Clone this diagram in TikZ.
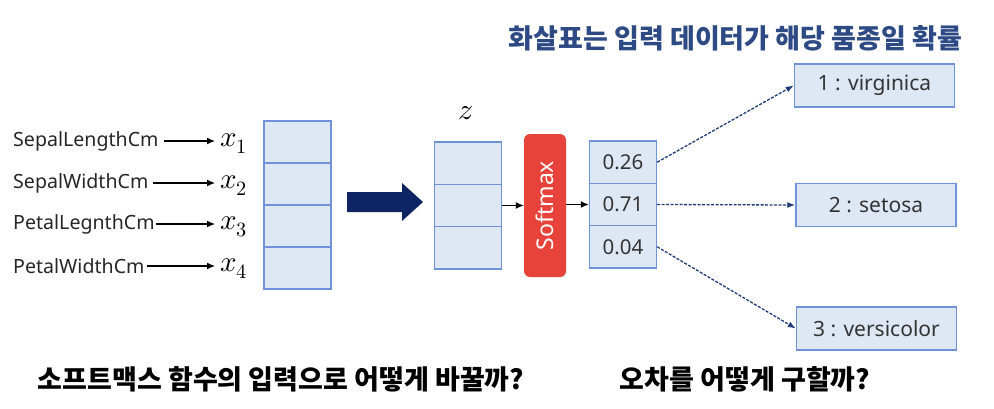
\documentclass[tikz,border=0pt]{standalone}
\usepackage{fontspec}
\usepackage{unicode-math}
\setmainfont{Noto Sans}
\setmathfont{Latin Modern Math}
\newfontfamily\kr{Noto Sans CJK KR}
\usetikzlibrary{arrows.meta}
\definecolor{cellfill}{HTML}{DEE8F5}
\definecolor{cellline}{HTML}{7092D8}
\definecolor{navy}{HTML}{0F2462}
\definecolor{titlec}{HTML}{2E4A85}
\definecolor{dashc}{HTML}{1F3A78}
\definecolor{smred}{HTML}{E8433B}
\tikzset{
  cell/.style={draw=cellline, fill=cellfill, line width=1.4pt, inner sep=0pt, minimum width=67pt, minimum height=42.3pt, font=\fontsize{20.5}{24}\selectfont, text=black!80},
  classbox/.style={draw=cellline, fill=cellfill, line width=1.4pt, inner sep=0pt, minimum width=160pt, minimum height=43pt, font=\fontsize{21}{24}\selectfont, text=black!80},
  feat/.style={anchor=west, inner sep=0pt, font=\fontsize{19.6}{23}\selectfont, text=black!85},
  xin/.style={anchor=west, inner sep=0pt, font=\fontsize{29}{32}\selectfont},
  thinarrow/.style={-{Latex[length=8pt,width=7pt]}, line width=1.2pt, black},
  dasharrow/.style={-{Latex[length=8pt,width=6pt]}, line width=1.3pt, dashc, dash pattern=on 3pt off 1.5pt},
  krbold/.style={font=\kr\bfseries\fontsize{27}{30}\selectfont}
}
\begin{document}
\begin{tikzpicture}[x=1pt,y=-1pt]
\path[use as bounding box] (0,0) rectangle (994,408);

% title
\node[krbold, text=titlec] (title) at (735.5,38) {화살표는 입력 데이터가 해당 품종일 확률};

% input column
\node[cell] (a1) at (297.5,142) {};
\node[cell] (a2) at (297.5,184) {};
\node[cell] (a3) at (297.5,226) {};
\node[cell] (a4) at (297.5,268) {};

% features
\node[feat] (f1) at (13,141) {SepalLengthCm};
\node[feat] (f2) at (13,183) {SepalWidthCm};
\node[feat] (f3) at (13,224) {PetalLegnthCm};
\node[feat] (f4) at (13,266) {PetalWidthCm};
\node[xin] (x1) at (220,144) {$x_1$};
\node[xin] (x2) at (220,186) {$x_2$};
\node[xin] (x3) at (220,227) {$x_3$};
\node[xin] (x4) at (220,269) {$x_4$};
\draw[thinarrow] (f1.east) ++(5,0) -- ([xshift=-5pt]x1.west |- f1.east);
\draw[thinarrow] (f2.east) ++(4,0) -- ([xshift=-5pt]x2.west |- f2.east);
\draw[thinarrow] (f3.east) ++(1,0) -- ([xshift=-5pt]x3.west |- f3.east);
\draw[thinarrow] (f4.east) ++(2,0) -- ([xshift=-5pt]x4.west |- f4.east);

% big arrow
\fill[navy] (347,192) -- (402,192) -- (402,183) -- (423,202) -- (402,221) -- (402,212) -- (347,212) -- cycle;

% z column
\node[font=\fontsize{30}{32}\selectfont] (zl) at (466,113) {$z$};
\node[cell] (z1) at (468,163.2) {};
\node[cell] (z2) at (468,205.5) {};
\node[cell] (z3) at (468,247.8) {};

% softmax
\node[fill=smred, rounded corners=6pt, minimum width=42pt, minimum height=143pt, inner sep=0pt] (sm) at (545,205.5) {};
\node[rotate=90, text=white, font=\fontsize{23}{26}\selectfont] (smt) at (sm.center) {Softmax};

% output column
\node[cell] (o1) at (623,162.2) {0.26};
\node[cell] (o2) at (623,204.5) {0.71};
\node[cell] (o3) at (623,246.8) {0.04};

\draw[thinarrow] (z2.east) -- (sm.west |- z2.east);
\draw[thinarrow] (sm.east |- o2.west) -- (o2.west);

% classes
\node[classbox] (c1) at (874.5,85.5) {1 : virginica};
\node[classbox] (c2) at (876,205) {2 : setosa};
\node[classbox] (c3) at (876.5,328.5) {3 : versicolor};

\draw[dasharrow] (o1.east) -- (c1.west);
\draw[dasharrow] (o2.east) -- (c2.west);
\draw[dasharrow] (o3.east) -- (c3.west);

% bottom questions
\node[krbold, text=black] (q1) at (281,379) {소프트맥스 함수의 입력으로 어떻게 바꿀까?};
\node[krbold, text=black] (q2) at (745,379) {오차를 어떻게 구할까?};
\end{tikzpicture}
\end{document}
